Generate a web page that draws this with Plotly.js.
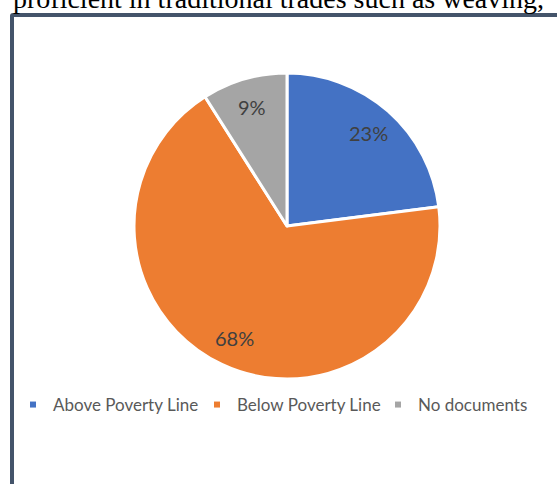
<!DOCTYPE html>
<html><head><meta charset="utf-8">
<script src="https://cdn.plot.ly/plotly-3.0.1.min.js"></script>
<style>
html,body{margin:0;padding:0;background:#fff;overflow:hidden;}
#wrap{position:relative;width:557px;height:484px;overflow:hidden;background:#fff;}
#frame{position:absolute;left:10px;top:13px;width:620px;height:540px;border:4px solid #44546A;border-radius:3px;box-sizing:border-box;}
#topText{position:absolute;left:13px;top:-15px;font-family:"Liberation Serif","Times New Roman",serif;font-size:28px;line-height:28px;white-space:nowrap;color:#000;}
#chart{position:absolute;left:0;top:0;width:557px;height:484px;}
</style></head>
<body>
<div id="wrap">
<div id="frame"></div>
<div id="topText">proficient in traditional trades such as weaving,</div>
<div id="chart"></div>
</div>
<script>
const categories = ["Above Poverty Line", "Below Poverty Line", "No documents"];
const shares = [23, 68, 9];
const sliceColors = ["#4472C4", "#ED7D31", "#A5A5A5"];

const W = 557, H = 484;
const cx = 287, cy = 226, R = 153;
const labelRadius = 0.81;
const legendLeft = [13, 197, 378];   // left edge (px) of each legend entry
const legendIds = ['legend', 'legend2', 'legend3'];

const pie = {
  type: 'pie',
  labels: categories,
  values: shares,
  sort: false,
  direction: 'clockwise',
  rotation: 0,
  marker: {colors: sliceColors, line: {color: '#FFFFFF', width: 3}},
  textinfo: 'none',
  showlegend: false,
  hoverinfo: 'skip',
  domain: {x: [(cx - R) / W, (cx + R) / W], y: [(H - cy - R) / H, (H - cy + R) / H]}
};

const legendTraces = categories.map((c, i) => ({
  type: 'scatter', x: [null], y: [null], mode: 'markers', name: c,
  marker: {symbol: 'square', size: 6, color: sliceColors[i]},
  showlegend: true, hoverinfo: 'skip', legend: legendIds[i]
}));

// percentage labels placed along each slice's bisector, computed from the data
const total = shares.reduce((a, b) => a + b, 0);
let cum = 0;
const labelAnnotations = shares.map((v) => {
  const mid = (cum + v / 2) / total;
  cum += v;
  const th = mid * 2 * Math.PI;
  const px = cx + labelRadius * R * Math.sin(th);
  const py = cy - labelRadius * R * Math.cos(th);
  return {
    xref: 'paper', yref: 'paper', x: px / W, y: 1 - py / H,
    xanchor: 'center', yanchor: 'middle', showarrow: false,
    text: Math.round(v / total * 100) + '%',
    font: {family: 'Lato, sans-serif', size: 20, color: '#404040'}
  };
});

const layout = {
  width: W, height: H,
  margin: {l: 0, r: 0, t: 0, b: 0},
  paper_bgcolor: 'rgba(0,0,0,0)',
  plot_bgcolor: 'rgba(0,0,0,0)',
  xaxis: {visible: false}, yaxis: {visible: false},
  showlegend: true,
  annotations: labelAnnotations
};
legendIds.forEach((id, i) => {
  layout[id] = {
    orientation: 'h', x: legendLeft[i] / W, xanchor: 'left', y: (H - 405) / H, yanchor: 'middle',
    font: {family: 'Lato, sans-serif', size: 17, color: '#595959'},
    bgcolor: 'rgba(0,0,0,0)'
  };
});

Plotly.newPlot('chart', [pie].concat(legendTraces), layout, {displayModeBar: false, staticPlot: true});
</script>
</body></html>
